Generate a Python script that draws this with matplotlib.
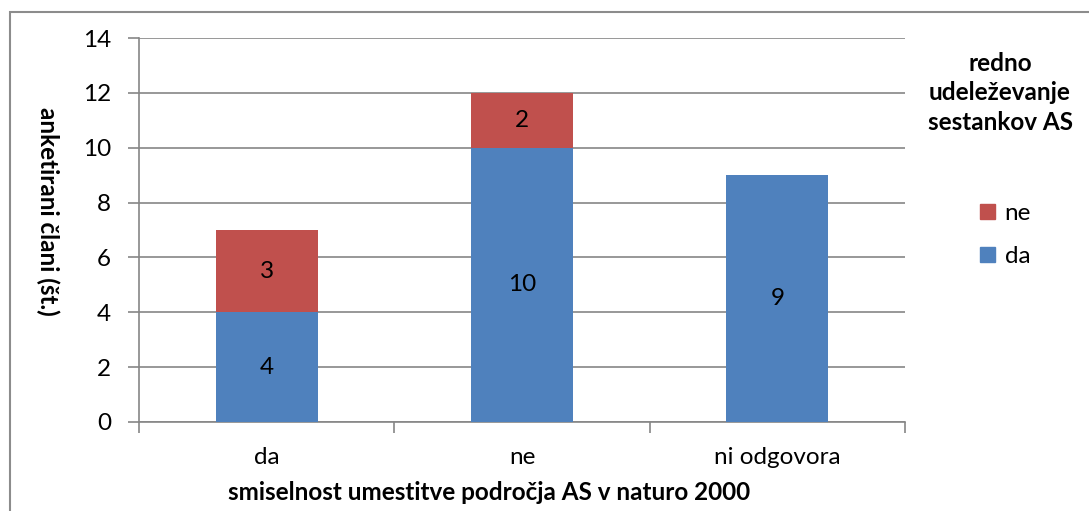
import matplotlib.pyplot as plt
from matplotlib.patches import Rectangle, Patch
import numpy as np

plt.rcParams['font.family'] = ['Lato', 'DejaVu Sans']

categories = ["da", "ne", "ni odgovora"]
da_values = [4, 10, 9]
ne_values = [3, 2, 0]
y_ticks = [0, 2, 4, 6, 8, 10, 12, 14]

BLUE = "#4F81BD"
RED = "#C0504D"
GRID = "#868686"
FS = 17.5
W, H = 1089, 511

fig = plt.figure(figsize=(10.89, 5.11), dpi=100)
ax = fig.add_axes([139 / W, 1 - 422 / H, (905 - 139) / W, (422 - 38) / H])

# outer chart border
fig.patches.append(Rectangle((10 / W, -0.01), 1.0, 1 - 12 / H + 0.01,
                             transform=fig.transFigure, fill=False,
                             edgecolor="#8c8c8c", lw=1.5))

x = np.arange(len(categories))
w = 0.4
ax.bar(x, da_values, w, color=BLUE, label="da", zorder=3)
ax.bar(x, ne_values, w, bottom=da_values, color=RED, label="ne", zorder=3)

for xi, d, n in zip(x, da_values, ne_values):
    if d:
        ax.text(xi, d / 2, str(d), ha="center", va="center", fontsize=FS, zorder=4)
    if n:
        ax.text(xi, d + n / 2, str(n), ha="center", va="center", fontsize=FS, zorder=4)

ax.set_xlim(-0.5, len(categories) - 0.5)
ax.set_ylim(0, 14)
ax.set_yticks(y_ticks)
ax.set_yticklabels([str(v) for v in y_ticks], fontsize=FS)
ax.set_xticks(x)
ax.set_xticklabels(categories, fontsize=FS)
ax.set_xticks(np.arange(len(categories) + 1) - 0.5, minor=True)
ax.tick_params(axis="x", which="major", length=0, pad=18)
ax.tick_params(axis="x", which="minor", length=8, color=GRID, width=1.2)
ax.tick_params(axis="y", length=8, color=GRID, width=1.2, pad=12)

ax.grid(axis="y", color=GRID, lw=1.2, zorder=0)
for s in ["top", "right"]:
    ax.spines[s].set_visible(False)
for s in ["left", "bottom"]:
    ax.spines[s].set_color(GRID)
    ax.spines[s].set_linewidth(1.2)

# axis titles placed where the reference has them
fig.text(48 / W, 1 - 211 / H, "anketirani člani (št.)", rotation=270, ha="center",
         va="center", fontsize=FS, fontweight="bold")
fig.text(489 / W, 1 - 492 / H, "smiselnost umestitve področja AS v naturo 2000",
         ha="center", va="center", fontsize=FS, fontweight="bold")

handles = [Patch(color=RED, label="ne"), Patch(color=BLUE, label="da")]
fig.text(1000 / W, 1 - 93 / H, "redno\nudeleževanje\nsestankov AS", ha="center",
         va="center", fontsize=FS, fontweight="bold", linespacing=1.35)
fig.legend(handles=handles, loc="center left", bbox_to_anchor=(958 / W, 1 - 235 / H),
           frameon=False, fontsize=FS, handlelength=0.62, handleheight=0.62,
           handletextpad=0.4, labelspacing=0.9)

fig.savefig("out.png", dpi=100)
